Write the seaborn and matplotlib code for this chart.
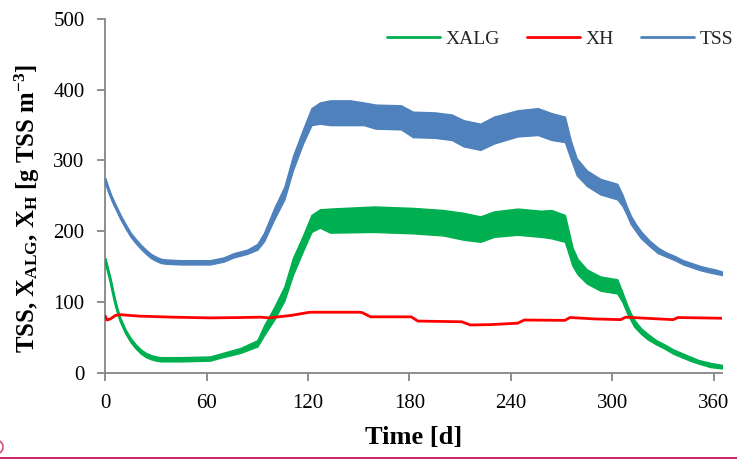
import numpy as np
import pandas as pd
import matplotlib
matplotlib.use("Agg")
import matplotlib.pyplot as plt
import seaborn as sns
from matplotlib.lines import Line2D
from matplotlib.patches import Arc

# Simulated concentrations over one year [g TSS m-3]
# TSS and XALG swing every day, so each is kept as a lower / upper envelope.
tss_day = [0, 1.5, 3, 5, 7, 9, 12, 15, 18, 21, 24, 27, 30, 33, 36, 45, 55, 62, 70, 76, 84,
           90, 94, 100, 106, 111, 117, 122, 127, 133, 145, 153, 160, 175, 182, 195, 205,
           212, 222, 230, 244, 256, 264, 272, 275.5, 279, 285, 293, 303, 306, 308.5, 311,
           314, 317, 322, 327, 332, 337, 342, 347, 352, 357, 361, 365]
tss_low = [269, 258, 248, 237, 227, 217, 204, 192, 183, 175, 168, 162, 158, 155, 154, 153, 153,
           153, 157, 163, 168, 174, 186, 217, 245, 286, 324, 350, 352, 350, 350, 350, 345,
           344, 333, 332, 329, 320, 315, 324, 334, 336, 329, 326, 302, 279, 264, 252, 245,
           236, 224, 210, 200, 190, 179, 169, 164, 159, 153, 149, 145, 142, 140, 138]
tss_high = [275, 264, 254, 243, 233, 223, 210, 198, 189, 181, 174, 168, 164, 161, 160, 159, 159,
            159, 163, 169, 174, 182, 198, 233, 263, 306, 344, 374, 382, 385, 385, 382, 379,
            378, 369, 368, 365, 357, 352, 362, 371, 374, 367, 362, 328, 303, 286, 274, 267,
            252, 236, 222, 210, 200, 187, 177, 170, 165, 159, 155, 151, 148, 146, 143]

alg_day = [0, 1.5, 3, 4.5, 6, 7.5, 9, 12, 15, 18, 21, 24, 27, 30, 33, 45, 62, 68, 80, 90, 94,
           100, 106, 111, 117, 122, 127, 133, 159, 182, 200, 212, 222, 230, 244, 258, 264,
           272, 276.5, 279.5, 285, 293, 303, 306, 309, 311, 313, 317, 321, 326, 331, 336,
           341, 346, 351, 358, 365]
alg_low = [156, 142, 128, 111, 95, 82, 71, 55, 43, 34, 27, 22, 19, 17, 16, 16, 17, 21, 28, 37,
           53, 75, 102, 138, 172, 199, 205, 198, 199, 197, 194, 188, 185, 192, 195, 192, 190,
           185, 151, 139, 126, 116, 112, 100, 83, 74, 65, 55, 47, 40, 34, 27, 22, 17, 13, 8, 6]
alg_high = [162, 148, 134, 117, 101, 88, 77, 61, 49, 40, 33, 28, 25, 23, 22, 22, 23, 27, 35, 46,
            67, 93, 122, 162, 194, 223, 231, 232, 235, 233, 230, 226, 221, 228, 232, 229, 230,
            223, 177, 161, 146, 136, 132, 114, 95, 84, 75, 63, 55, 46, 40, 33, 28, 23, 18, 14, 11]

xh_day = [0, 1, 3, 6, 9, 20, 40, 62, 80, 92, 97, 110, 121, 150, 152, 157, 181, 185,
          211, 216, 228, 244, 248, 272, 275, 290, 305, 308, 320, 336, 339, 365]
xh_val = [80, 74.5, 76, 81, 82, 80, 78.5, 77.5, 78, 78.5, 77.5, 81, 85.5, 85.5, 85, 79, 79, 73,
          72, 67.5, 68, 70, 74.5, 74, 78, 76, 75, 78.5, 77, 75, 78, 77]

series_order = ["XALG", "XH", "TSS"]
colors = {"XALG": "#00B050", "XH": "#FF0000", "TSS": "#4F81BD"}

tss_mid = (np.array(tss_low) + np.array(tss_high)) / 2
alg_mid = (np.array(alg_low) + np.array(alg_high)) / 2
df = pd.concat([
    pd.DataFrame({"Time": alg_day, "Conc": alg_mid, "Series": "XALG"}),
    pd.DataFrame({"Time": xh_day, "Conc": xh_val, "Series": "XH"}),
    pd.DataFrame({"Time": tss_day, "Conc": tss_mid, "Series": "TSS"}),
], ignore_index=True)

sns.set_theme(style="white")
plt.rcParams["font.family"] = ["Liberation Serif", "DejaVu Serif"]
plt.rcParams["mathtext.fontset"] = "custom"
plt.rcParams["mathtext.rm"] = "Liberation Serif"
plt.rcParams["mathtext.bf"] = "Liberation Serif:bold"
plt.rcParams["mathtext.it"] = "Liberation Serif:italic"

fig = plt.figure(figsize=(7.37, 4.59), dpi=100)
ax = fig.add_axes([0.1429, 0.188, 0.8368, 0.7706])

# daily swing bands
ax.fill_between(alg_day, alg_low, alg_high, color=colors["XALG"], lw=1.0, zorder=2)
ax.fill_between(tss_day, tss_low, tss_high, color=colors["TSS"], lw=1.0, zorder=2)

sns.lineplot(data=df, x="Time", y="Conc", hue="Series", hue_order=series_order,
             palette=colors, estimator=None, sort=False, linewidth=2, ax=ax, zorder=3)
# keep the heterotroph line above the bands where they cross
ax.get_lines()[1].set_zorder(5)

ax.set_xlim(0, 365)
ax.set_ylim(0, 500)
ax.set_xticks(range(0, 361, 60))
ax.set_yticks(range(0, 501, 100))

sns.despine(ax=ax)
spine_col = "#868686"
for s in ("left", "bottom"):
    ax.spines[s].set_color(spine_col)
    ax.spines[s].set_linewidth(1.3)
ax.tick_params(axis="both", bottom=True, left=True, direction="out", length=6,
               width=1.3, color=spine_col, labelsize=15, labelcolor="black", pad=9)

ax.set_xlabel("Time [d]", fontsize=19, fontweight="bold", color="black")
ax.xaxis.label.set_va("center")
ax.xaxis.set_label_coords(0.5, -0.182)
ax.set_ylabel(r"TSS, X$_{\mathbf{ALG}}$, X$_{\mathbf{H}}$ [g TSS m$^{\mathbf{-3}}$]",
              fontsize=17.8, fontweight="bold", color="black")
ax.yaxis.label.set_va("center")
ax.yaxis.set_label_coords(-0.127, 0.465)

handles, labels = ax.get_legend_handles_labels()
ax.get_legend().remove()
for h in handles:
    h.set_linewidth(2)
fig.legend(handles, labels, loc="center right", bbox_to_anchor=(733 / 737, 1 - 39 / 459),
           ncol=3, frameon=False, fontsize=14, handlelength=2.7, handletextpad=0.3,
           columnspacing=1.4, borderpad=0, borderaxespad=0)

# page rule along the bottom edge
fig.add_artist(Line2D([0, 1], [1.5 / 459, 1.5 / 459], transform=fig.transFigure,
                      color="#C0004F", lw=1.2))
fig.add_artist(Arc((-4 / 737, 12 / 459), 14 / 737, 14 / 459, transform=fig.transFigure,
                   color="#D05080", lw=1.2))

fig.savefig("out.png", dpi=100)
